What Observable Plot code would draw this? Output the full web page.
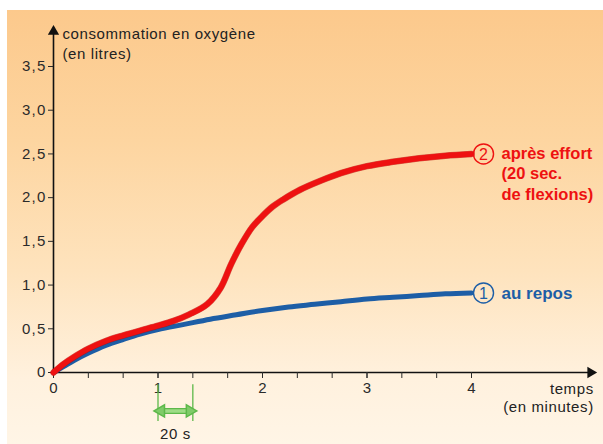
<!DOCTYPE html>
<html>
<head>
<meta charset="utf-8">
<script src="https://cdn.jsdelivr.net/npm/d3@7"></script>
<script src="https://cdn.jsdelivr.net/npm/@observablehq/plot@0.6"></script>
<style>
  html, body { margin: 0; padding: 0; background: #ffffff; }
  #wrap { position: relative; width: 603px; height: 444px; overflow: hidden; }
  #bg { position: absolute; left: 7px; top: 10px; right: 0; bottom: 0;
        background: linear-gradient(to bottom, #fcc98c 0%, #fdd5a0 30%, #fee3bd 60%, #fff1de 85%, #fff5e6 100%); }
  #chart { position: absolute; left: 0; top: 0; }
  #chart svg g[aria-label="y-axis tick label"] text { letter-spacing: 1.2px; }
  #chart svg g.spaced text { letter-spacing: 0.6px; }
</style>
</head>
<body>
<div id="wrap"><div id="bg"></div><div id="chart"></div></div>
<script>
// ---- data ----
const timeRest   = [0, 0.1, 0.2, 0.33, 0.5, 0.67, 0.83, 1, 1.25, 1.5, 1.75, 2, 2.25, 2.5, 2.75, 3, 3.25, 3.5, 3.75, 4];
const restValues = [0, 0.07, 0.14, 0.22, 0.31, 0.38, 0.44, 0.49, 0.55, 0.61, 0.66, 0.71, 0.75, 0.78, 0.81, 0.84, 0.86, 0.88, 0.90, 0.91];

const timeEffort   = [0, 0.1, 0.2, 0.33, 0.5, 0.67, 0.83, 1, 1.15, 1.3, 1.47, 1.6, 1.7, 1.8, 1.9, 2.0, 2.1, 2.2, 2.36, 2.55, 2.75, 3, 3.25, 3.5, 3.75, 4];
const effortValues = [0, 0.10, 0.18, 0.27, 0.36, 0.425, 0.48, 0.535, 0.59, 0.665, 0.78, 0.97, 1.24, 1.47, 1.66, 1.79, 1.90, 1.98, 2.09, 2.19, 2.28, 2.36, 2.41, 2.45, 2.48, 2.50];

const yTicks = [0, 0.5, 1, 1.5, 2, 2.5, 3, 3.5];
const xLabelTicks = [0, 1, 2, 3, 4];
const xMinorTicks = d3.range(0, 13).map(i => i / 3);

const yLabel = "consommation en oxygène\n(en litres)";
const xLabel = ["temps", "(en minutes)"];
const restLabel = "au repos";
const effortLabel = "après effort\n(20 sec.\nde flexions)";
const intervalLabel = "20 s";
const interval = [1, 4 / 3];

const rest = timeRest.map((t, i) => ({t, v: restValues[i]}));
const effort = timeEffort.map((t, i) => ({t, v: effortValues[i]}));

const RED = "#ee1111";
const BLUE = "#1d5ea6";
const GREEN = "#5db84a";
const fmt = d => d === 0 ? "0" : d.toFixed(1).replace(".", ",");

const restEnd = rest[rest.length - 1];
const effortEnd = effort[effort.length - 1];
const labelX = 4.115;
const BOLDFONT = "'Liberation Sans Narrow', 'Arial Narrow', 'Liberation Sans', Arial, sans-serif";

const chart = Plot.plot({
  width: 603,
  height: 444,
  marginLeft: 53,
  marginRight: 132,
  marginTop: 66,
  marginBottom: 72,
  x: {domain: [0, 4]},
  y: {domain: [0, 3.5]},
  style: {background: "transparent", overflow: "visible", fontFamily: "'Liberation Sans', Arial, sans-serif", color: "#2a2a2a"},
  marks: [
    // axes lines with arrowheads
    Plot.link([{x1: 0, y1: 0, x2: 5.12, y2: 0}], {x1: "x1", y1: "y1", x2: "x2", y2: "y2", stroke: "#111", strokeWidth: 1.6}),
    Plot.link([{x1: 0, y1: 0, x2: 0, y2: 3.9}], {x1: "x1", y1: "y1", x2: "x2", y2: "y2", stroke: "#111", strokeWidth: 1.6}),
    Plot.dot([{x: 5.14, y: 0}], {x: "x", y: "y", symbol: "triangle", r: 4.2, fill: "#111", rotate: 90}),
    Plot.dot([{x: 0, y: 3.9}], {x: "x", y: "y", symbol: "triangle", r: 4.2, fill: "#111"}),
    Plot.axisY({ticks: yTicks, tickSize: 5, tickPadding: 2, tickFormat: fmt, fontSize: 15, label: null}),
    Plot.axisX({ticks: xMinorTicks, tickSize: 6, tickFormat: () => "", label: null}),
    Plot.axisX({ticks: xLabelTicks, tickSize: 6, tickPadding: 4, fontSize: 15, tickFormat: d => String(d), label: null}),
    // axis titles
    Plot.text([yLabel], {x: 0, y: 3.97, text: d => d, dx: 9, textAnchor: "start", lineAnchor: "top", lineHeight: 1.3, fontSize: 15, fill: "#222", className: "spaced"}),
    Plot.text([xLabel[0]], {x: 5.17, y: -0.19, text: d => d, textAnchor: "end", fontSize: 15, fill: "#222", className: "spaced"}),
    Plot.text([xLabel[1]], {x: 5.17, y: -0.40, text: d => d, textAnchor: "end", fontSize: 15, fill: "#222", className: "spaced"}),
    // curves
    Plot.line(rest, {x: "t", y: "v", stroke: BLUE, strokeWidth: 5, curve: "catmull-rom"}),
    Plot.line(effort, {x: "t", y: "v", stroke: "#b80000", strokeWidth: 6.5, curve: "catmull-rom", strokeOpacity: 0.6}),
    Plot.line(effort, {x: "t", y: "v", stroke: RED, strokeWidth: 5.5, curve: "catmull-rom"}),
    // series labels
    Plot.dot([restEnd], {x: () => labelX, y: "v", r: 10, stroke: BLUE, strokeWidth: 1.4, fill: "none"}),
    Plot.text([restEnd], {x: () => labelX, y: "v", text: () => "1", fill: BLUE, fontSize: 16, dy: 1}),
    Plot.text([restEnd], {x: () => labelX, y: "v", text: () => restLabel, dx: 18, dy: 1, textAnchor: "start", fill: BLUE, fontSize: 17, fontWeight: "bold", fontFamily: BOLDFONT}),
    Plot.dot([effortEnd], {x: () => labelX, y: "v", r: 10, stroke: RED, strokeWidth: 1.4, fill: "none"}),
    Plot.text([effortEnd], {x: () => labelX, y: "v", text: () => "2", fill: RED, fontSize: 16, dy: 1}),
    Plot.text([effortEnd], {x: () => labelX, y: "v", text: () => effortLabel, dx: 18, dy: -10, textAnchor: "start", lineAnchor: "top", lineHeight: 1.25, fill: RED, fontSize: 16.5, fontWeight: "bold", fontFamily: BOLDFONT}),
    // 20 s interval annotation
    Plot.ruleX(interval, {x: d => d, y1: -0.14, y2: -0.56, stroke: GREEN, strokeWidth: 1.3}),
    Plot.link([{a: interval[0], b: interval[1]}], {x1: "a", x2: "b", y1: () => -0.44, y2: () => -0.44, stroke: GREEN, strokeWidth: 6}),
    Plot.link([{a: interval[0], b: interval[1]}], {x1: "a", x2: "b", y1: () => -0.44, y2: () => -0.44, stroke: "#9edc86", strokeWidth: 3.5}),
    Plot.dot([interval[0]], {x: d => d, y: () => -0.44, symbol: "triangle", r: 4.5, fill: "#7fcb68", stroke: GREEN, rotate: -90, dx: 3}),
    Plot.dot([interval[1]], {x: d => d, y: () => -0.44, symbol: "triangle", r: 4.5, fill: "#7fcb68", stroke: GREEN, rotate: 90, dx: -3}),
    Plot.text([intervalLabel], {x: (interval[0] + interval[1]) / 2, y: -0.70, text: d => d, fontSize: 15, fill: "#222", className: "spaced"})
  ]
});
document.getElementById("chart").appendChild(chart);
</script>
</body>
</html>
